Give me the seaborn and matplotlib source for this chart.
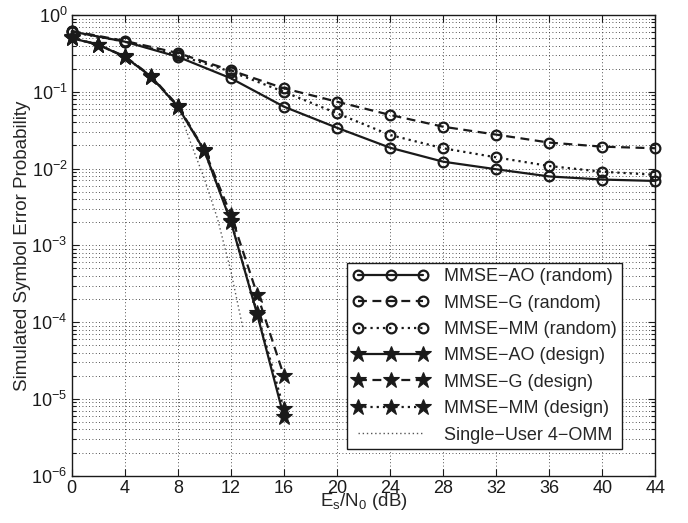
import numpy as np
import pandas as pd
import seaborn as sns
import matplotlib.pyplot as plt
from matplotlib.ticker import LogLocator, LogFormatterMathtext, NullFormatter, FixedLocator

# Es/N0 grids (dB)
snr_random = [0, 4, 8, 12, 16, 20, 24, 28, 32, 36, 40, 44]
snr_design = [0, 2, 4, 6, 8, 10, 12, 14, 16]
snr_single = [0, 2, 4, 6, 8, 9, 10, 11, 12, 12.9]

# symbol error probabilities
ao_random = [0.61, 0.45, 0.286, 0.15, 0.064, 0.034, 0.0187, 0.0123, 0.0098, 0.0079, 0.0072, 0.0069]
g_random = [0.62, 0.46, 0.32, 0.19, 0.111, 0.0743, 0.050, 0.0351, 0.0277, 0.0218, 0.0193, 0.0184]
mm_random = [0.60, 0.45, 0.30, 0.183, 0.100, 0.0525, 0.0274, 0.0184, 0.0140, 0.0108, 0.0091, 0.0083]

ao_design = [0.50, 0.41, 0.286, 0.157, 0.064, 0.0171, 0.00204, 0.000124, 5.8e-6]
g_design = [0.51, 0.41, 0.29, 0.16, 0.066, 0.0175, 0.0025, 0.000226, 2.0e-5]
mm_design = [0.50, 0.41, 0.286, 0.157, 0.064, 0.0170, 0.0021, 0.00013, 7.3e-6]

single_user = [0.50, 0.41, 0.286, 0.157, 0.064, 0.021, 0.0074, 0.0022, 0.00046, 0.000085]

labels = ["MMSE\u2212AO (random)", "MMSE\u2212G (random)", "MMSE\u2212MM (random)",
          "MMSE\u2212AO (design)", "MMSE\u2212G (design)", "MMSE\u2212MM (design)",
          "Single\u2212User 4\u2212OMM"]

sns.set_theme(style="ticks")
plt.rcParams["font.family"] = ["Liberation Sans", "DejaVu Sans"]
plt.rcParams["mathtext.fontset"] = "custom"
plt.rcParams["mathtext.rm"] = "Liberation Sans"
plt.rcParams["mathtext.it"] = "Liberation Sans:italic"
plt.rcParams["mathtext.default"] = "regular"

fig = plt.figure(figsize=(6.88, 5.23), dpi=100)
ax = fig.add_axes([0.1042, 0.0904, 0.8483, 0.8809])

solid = "-"
dashed = (0, (4, 2.5))
dotted = (0, (1, 1.8))

circle = dict(marker="o", markersize=7, markerfacecolor="none",
              markeredgecolor="k", markeredgewidth=1.6)
star = dict(marker="*", markersize=12, markerfacecolor="k",
            markeredgecolor="k", markeredgewidth=0.8)

series = [
    (snr_random, ao_random, solid, circle),
    (snr_random, g_random, dashed, circle),
    (snr_random, mm_random, dotted, circle),
    (snr_design, ao_design, solid, star),
    (snr_design, g_design, dashed, star),
    (snr_design, mm_design, dotted, star),
]

for (x, y, ls, mk), lab in zip(series, labels[:6]):
    sns.lineplot(x=x, y=y, ax=ax, color="k", linestyle=ls, linewidth=1.6,
                 label=lab, errorbar=None, clip_on=False, zorder=3, **mk)

sns.lineplot(x=snr_single, y=single_user, ax=ax, color="#555555",
             linestyle=(0, (1, 2)), linewidth=1.0, label=labels[6], errorbar=None)

ax.set_yscale("log")
ax.set_xlim(0, 44)
ax.set_ylim(1e-6, 1)
ax.xaxis.set_major_locator(FixedLocator(np.arange(0, 45, 4)))
ax.yaxis.set_major_locator(LogLocator(base=10, numticks=10))
ax.yaxis.set_major_formatter(LogFormatterMathtext())
ax.yaxis.set_minor_locator(LogLocator(base=10, subs=np.arange(2, 10), numticks=20))
ax.yaxis.set_minor_formatter(NullFormatter())

ax.grid(True, which="major", axis="both", color="k", linestyle=(0, (1, 3)), linewidth=0.6)
ax.grid(True, which="minor", axis="y", color="k", linestyle=(0, (1, 3)), linewidth=0.6)

ax.tick_params(which="both", direction="in", top=True, right=True, labelsize=13,
               colors="k", width=0.8)
ax.tick_params(which="major", length=5, pad=3)
ax.tick_params(which="minor", length=3)
for s in ax.spines.values():
    s.set_color("k")
    s.set_linewidth(1.0)

ax.set_xlabel(r"E$_\mathregular{s}$/N$_\mathregular{0}$ (dB)", fontsize=13.5)
ax.set_ylabel("Simulated Symbol Error Probability", fontsize=13.5)
ax.xaxis.set_label_coords(0.5, -0.033)
ax.yaxis.set_label_coords(-0.069, 0.5)

leg = ax.legend(loc="lower right", bbox_to_anchor=(0.943, 0.058), fontsize=13,
                numpoints=3, handlelength=4.2, labelspacing=0.52, borderpad=0.3,
                handletextpad=0.85, borderaxespad=0, fancybox=False, framealpha=1,
                edgecolor="k")
leg.get_frame().set_linewidth(1.0)

fig.savefig("out.png", dpi=100)
